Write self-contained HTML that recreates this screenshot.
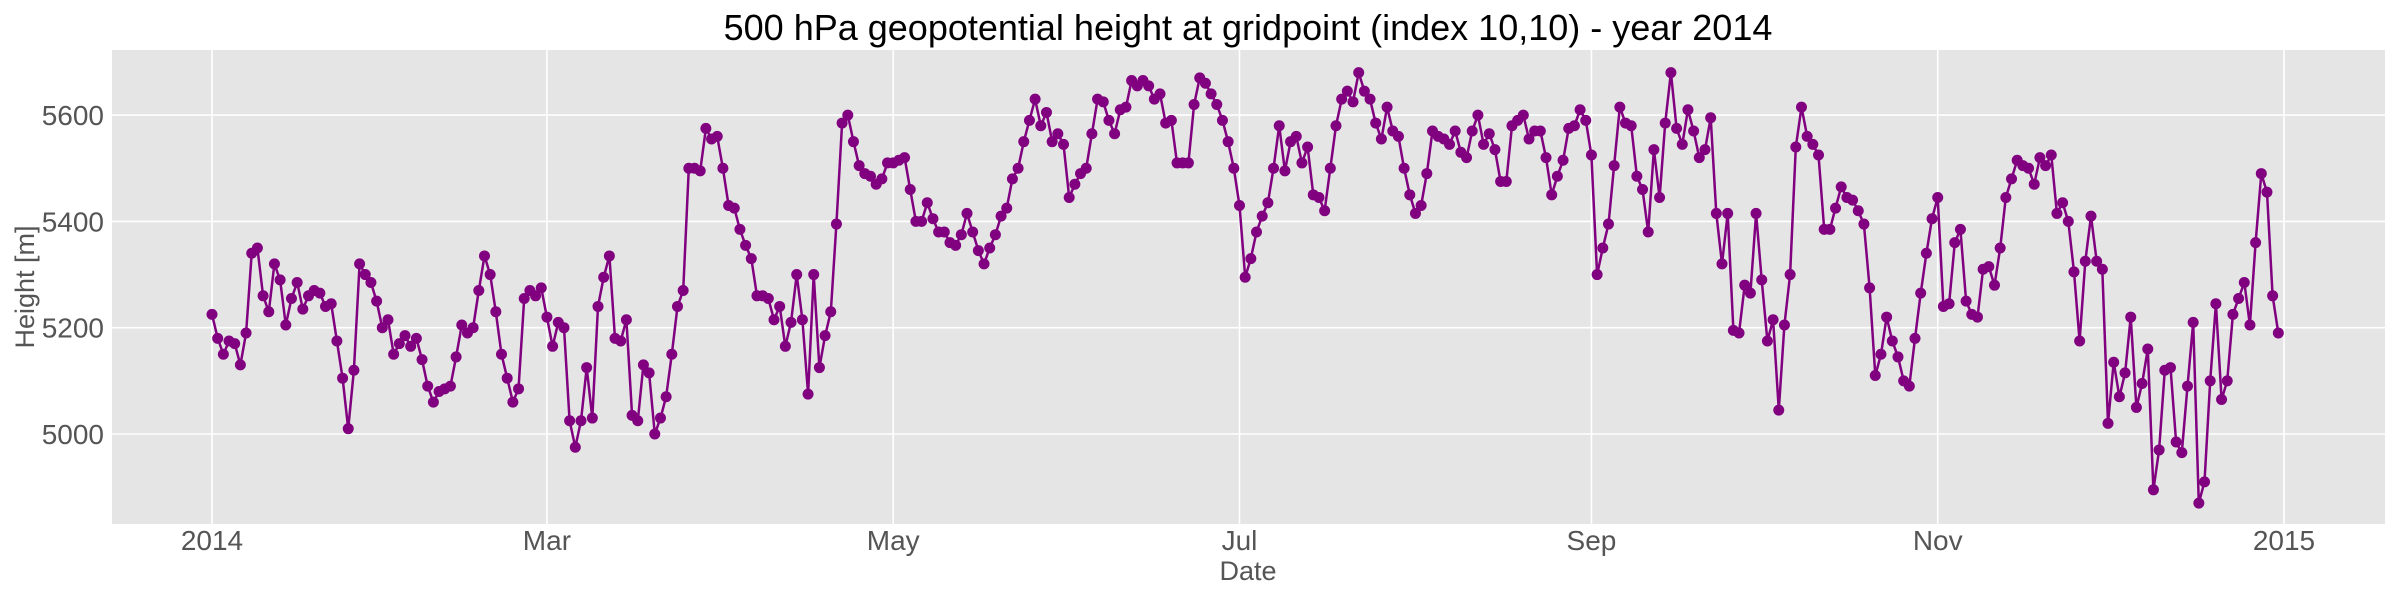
<!DOCTYPE html>
<html><head><meta charset="utf-8"><style>
html,body{margin:0;padding:0;background:#fff;}
svg{display:block;font-family:"Liberation Sans",sans-serif;}
</style></head><body>
<svg id="chart" width="2400" height="600" xmlns="http://www.w3.org/2000/svg">
<text x="1248" y="40" font-size="36" text-anchor="middle" fill="#000">500 hPa geopotential height at gridpoint (index 10,10) - year 2014</text>
<rect x="112" y="50" width="2273" height="474" fill="#e5e5e5"/>
<g id="grid"></g>
<g id="ticks"></g>
<g id="series"></g>
<text x="1248" y="580" font-size="27" text-anchor="middle" fill="#555">Date</text>
<text x="34" y="287" font-size="27" text-anchor="middle" fill="#555" transform="rotate(-90 34 287)">Height [m]</text>
</svg>
<script>
const values = [
5225,5180,5150,5175,5170,5130,5190,5340,5350,5260,5230,5320,5290,5205,5255,5285,5235,5260,5270,5265,5240,5245,5175,5105,5010,5120,5320,5300,5285,5250,5200,
5215,5150,5170,5185,5165,5180,5140,5090,5060,5080,5085,5090,5145,5205,5190,5200,5270,5335,5300,5230,5150,5105,5060,5085,5255,5270,5260,5275,
5220,5165,5210,5200,5025,4975,5025,5125,5030,5240,5295,5335,5180,5175,5215,5035,5025,5130,5115,5000,5030,5070,5150,5240,5270,5500,5500,5495,5575,5555,5560,
5500,5430,5425,5385,5355,5330,5260,5260,5255,5215,5240,5165,5210,5300,5215,5075,5300,5125,5185,5230,5395,5585,5600,5550,5505,5490,5485,5470,5480,5510,
5510,5515,5520,5460,5400,5400,5435,5405,5380,5380,5360,5355,5375,5415,5380,5345,5320,5350,5375,5410,5425,5480,5500,5550,5590,5630,5580,5605,5550,5565,5545,
5445,5470,5490,5500,5565,5630,5625,5590,5565,5610,5615,5665,5655,5665,5655,5630,5640,5585,5590,5510,5510,5510,5620,5670,5660,5640,5620,5590,5550,5500,
5430,5295,5330,5380,5410,5435,5500,5580,5495,5550,5560,5510,5540,5450,5445,5420,5500,5580,5630,5645,5625,5680,5645,5630,5585,5555,5615,5570,5560,5500,5450,
5415,5430,5490,5570,5560,5555,5545,5570,5530,5520,5570,5600,5545,5565,5535,5475,5475,5580,5590,5600,5555,5570,5570,5520,5450,5485,5515,5575,5580,5610,5590,
5525,5300,5350,5395,5505,5615,5585,5580,5485,5460,5380,5535,5445,5585,5680,5575,5545,5610,5570,5520,5535,5595,5415,5320,5415,5195,5190,5280,5265,5415,
5290,5175,5215,5045,5205,5300,5540,5615,5560,5545,5525,5385,5385,5425,5465,5445,5440,5420,5395,5275,5110,5150,5220,5175,5145,5100,5090,5180,5265,5340,5405,
5445,5240,5245,5360,5385,5250,5225,5220,5310,5315,5280,5350,5445,5480,5515,5505,5500,5470,5520,5505,5525,5415,5435,5400,5305,5175,5325,5410,5325,5310,
5020,5135,5070,5115,5220,5050,5095,5160,4895,4970,5120,5125,4985,4965,5090,5210,4870,4910,5100,5245,5065,5100,5225,5255,5285,5205,5360,5490,5455,5260,5190
];
const xTickDays = [0,59,120,181,243,304,365];
const xTickLabels = ["2014","Mar","May","Jul","Sep","Nov","2015"];
const yTicks = [5000,5200,5400,5600];

const NS="http://www.w3.org/2000/svg";
const X0=112,X1=2385,Y0=50,Y1=524;
const dayPx=(2284-212)/365;
function xs(d){return 212+d*dayPx;}
function ys(v){return 434-(v-5000)*(106.3/200);}
function mk(tag,attrs,parent){const e=document.createElementNS(NS,tag);for(const k in attrs)e.setAttribute(k,attrs[k]);parent.appendChild(e);return e;}
const grid=document.getElementById('grid'),ticks=document.getElementById('ticks'),series=document.getElementById('series');
yTicks.forEach(v=>{
  const l=mk('line',{x1:X0,x2:X1,y1:ys(v),y2:ys(v),stroke:'#fff','stroke-width':1.6},grid);
  
  
  const t=mk('text',{x:104,y:ys(v)+10,'font-size':28,'text-anchor':'end',fill:'#555'},ticks);
  t.textContent=v;
  
  
});
xTickDays.forEach((d,i)=>{
  const l=mk('line',{x1:xs(d),x2:xs(d),y1:Y0,y2:Y1,stroke:'#fff','stroke-width':1.6},grid);
  
  
  const t=mk('text',{x:xs(d),y:550,'font-size':28,'text-anchor':'middle',fill:'#555'},ticks);
  t.textContent=xTickLabels[i];
  
  
});
const pts=values.map((v,i)=>xs(i).toFixed(1)+','+ys(v).toFixed(1)).join(' ');
const pl=mk('polyline',{points:pts,fill:'none',stroke:'#800080','stroke-width':2.5},series);


values.forEach((v,i)=>{
  const c=mk('circle',{cx:xs(i),cy:ys(v),r:5.5,fill:'#800080'},series);
  
  
});
</script>
</body></html>
